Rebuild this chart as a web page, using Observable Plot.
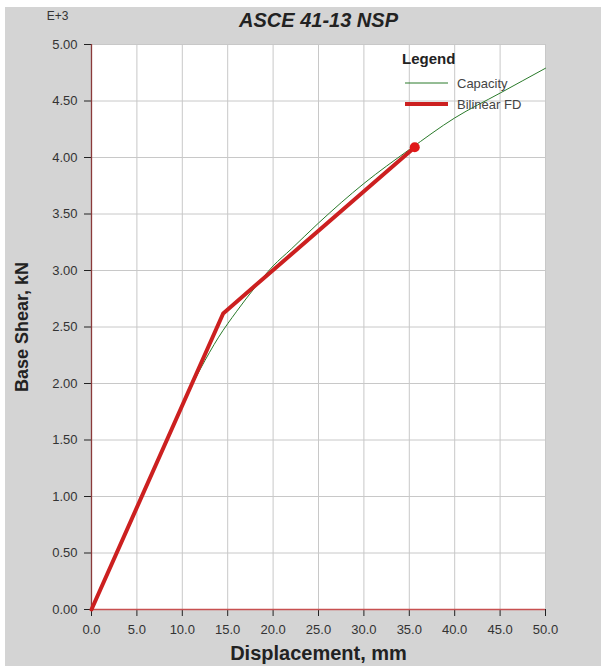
<!DOCTYPE html>
<html>
<head>
<meta charset="utf-8">
<script src="https://cdn.jsdelivr.net/npm/d3@7"></script>
<script src="https://cdn.jsdelivr.net/npm/@observablehq/plot@0.6"></script>
<style>
  html, body { margin: 0; padding: 0; background: #ffffff; }
  #wrap { position: absolute; left: 5px; top: 7px; width: 596px; height: 659px; background: #d4d4d4; }
</style>
</head>
<body>
<div id="wrap"></div>
<script>
// Capacity curve (displacement mm, base shear x1000 kN)
const capX = [0, 5, 10, 12, 14, 16, 18, 20, 22, 25, 30, 35, 40, 45, 50];
const capY = [0, 0.91, 1.81, 2.13, 2.41, 2.64, 2.85, 3.04, 3.19, 3.42, 3.77, 4.07, 4.35, 4.57, 4.79];
// Bilinear force-displacement
const bilX = [0, 14.5, 35.6];
const bilY = [0, 2.62, 4.09];
// Target point
const targetX = [35.6];
const targetY = [4.09];
// Ticks
const xTicks = [0, 5, 10, 15, 20, 25, 30, 35, 40, 45, 50];
const yTicks = [0, 0.5, 1, 1.5, 2, 2.5, 3, 3.5, 4, 4.5, 5];
const titleText = "ASCE 41-13 NSP";
const xLabel = "Displacement, mm";
const yLabel = "Base Shear, kN";
const multiplier = "E+3";
const legendTitle = "Legend";
const seriesNames = ["Capacity", "Bilinear FD"];
const seriesColors = ["#2a7a2a", "#cc2020"];

const cap = capX.map((x, i) => ({x, y: capY[i]}));
const bil = bilX.map((x, i) => ({x, y: bilY[i]}));
const tgt = targetX.map((x, i) => ({x, y: targetY[i]}));

const font = "'Liberation Sans', Arial, sans-serif";

const chart = Plot.plot({
  width: 596,
  height: 659,
  marginLeft: 86,
  marginRight: 56,
  marginTop: 37,
  marginBottom: 57,
  style: { background: "transparent", fontFamily: font, overflow: "visible" },
  x: { domain: [0, 50], ticks: xTicks },
  y: { domain: [0, 5], ticks: yTicks },
  marks: [
    Plot.frame({ fill: "#ffffff", stroke: "none" }),
    Plot.gridX(xTicks, { stroke: "#c8c8c8", strokeOpacity: 1, strokeWidth: 1 }),
    Plot.gridY(yTicks, { stroke: "#c8c8c8", strokeOpacity: 1, strokeWidth: 1 }),
    Plot.axisX(xTicks, { tickFormat: d3.format(".1f"), tickSize: 7, tickPadding: 8, fontSize: 13, color: "#333", stroke: "#222", label: null }),
    Plot.axisY(yTicks, { tickFormat: d3.format(".2f"), tickSize: 7, tickPadding: 7, fontSize: 13, color: "#333", stroke: "#222", label: null }),
    Plot.ruleX([0], { stroke: "#8a3a3a", strokeWidth: 1.3 }),
    Plot.ruleY([0], { stroke: "#c85050", strokeWidth: 1.3 }),
    Plot.line(cap, { x: "x", y: "y", stroke: seriesColors[0], strokeWidth: 1, curve: "monotone-x" }),
    Plot.line(bil, { x: "x", y: "y", stroke: seriesColors[1], strokeWidth: 4 }),
    Plot.dot(tgt, { x: "x", y: "y", r: 5, fill: "#e01818", stroke: "none" }),
    Plot.text([titleText], { frameAnchor: "top", dy: -24, fontSize: 20, fontWeight: "bold", fontStyle: "italic", fill: "#222", lineAnchor: "middle" }),
    Plot.text([multiplier], { frameAnchor: "top-left", dx: -34, dy: -28, fontSize: 12, fill: "#333", textAnchor: "middle", lineAnchor: "middle" }),
    Plot.text([xLabel], { frameAnchor: "bottom", dy: 44, fontSize: 20, fontWeight: "bold", fill: "#222", lineAnchor: "middle" }),
    Plot.text([yLabel], { frameAnchor: "left", dx: -69, rotate: -90, fontSize: 18, fontWeight: "bold", fill: "#222", textAnchor: "middle", lineAnchor: "middle" })
  ]
});
chart.style.position = "absolute";
chart.style.left = "0px";
chart.style.top = "0px";
const wrap = document.getElementById("wrap");
wrap.appendChild(chart);

// Legend overlay
const ns = "http://www.w3.org/2000/svg";
const leg = document.createElementNS(ns, "svg");
leg.setAttribute("width", "170");
leg.setAttribute("height", "72");
leg.style.position = "absolute";
leg.style.left = (395 - 5) + "px";
leg.style.top = (45 - 7) + "px";
function el(tag, attrs, text) {
  const e = document.createElementNS(ns, tag);
  for (const k in attrs) e.setAttribute(k, attrs[k]);
  if (text) e.textContent = text;
  leg.appendChild(e);
  return e;
}
el("text", { x: 7, y: 19, "font-family": font, "font-size": 15, "font-weight": "bold", fill: "#222" }, legendTitle);
const widths = [1, 4];
seriesNames.forEach((name, i) => {
  const yy = 38 + i * 21;
  el("line", { x1: 10, x2: 53, y1: yy, y2: yy, stroke: seriesColors[i], "stroke-width": widths[i] });
  el("text", { x: 62, y: yy + 5, "font-family": font, "font-size": 13, fill: "#444" }, name);
});
wrap.appendChild(leg);
</script>
</body>
</html>
